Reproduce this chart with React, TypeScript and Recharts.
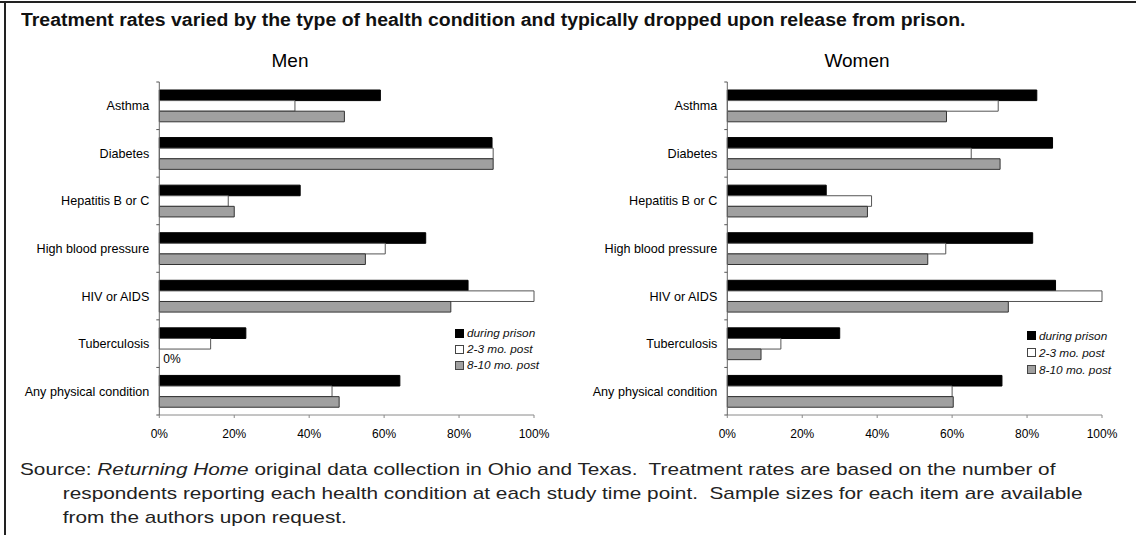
import { Bar, BarChart, LabelList, XAxis, YAxis } from "recharts";

const categories = [
  "Asthma",
  "Diabetes",
  "Hepatitis B or C",
  "High blood pressure",
  "HIV or AIDS",
  "Tuberculosis",
  "Any physical condition",
];
const menDuring = [59, 88.8, 37.6, 71.1, 82.4, 23.1, 64.2];
const menPost23 = [36.2, 89.1, 18.4, 60.3, 100, 13.7, 46.1];
const menPost810 = [49.4, 89.1, 20, 55, 77.8, 0, 48];
const womenDuring = [82.6, 86.8, 26.4, 81.5, 87.6, 30, 73.3];
const womenPost23 = [72.3, 65.1, 38.5, 58.3, 100, 14.3, 60];
const womenPost810 = [58.5, 72.8, 37.4, 53.5, 75, 9, 60.3];
const xTicks = [0, 20, 40, 60, 80, 100];

const seriesNames = ["during prison", "2-3 mo. post", "8-10 mo. post"];

const FONT = "'Liberation Sans', Arial, sans-serif";
const axisColor = "#8a8a8a";

type Row = { name: string; during: number; post23: number; post810: number };

function buildRows(a: number[], b: number[], c: number[]): Row[] {
  return categories.map((name, i) => ({ name, during: a[i], post23: b[i], post810: c[i] }));
}

// y tick: label at band centre, short tick mark at band boundaries
function CategoryTick(props: any) {
  const { x, y, payload, index } = props;
  const half = payload?.offset ?? 23.8;
  return (
    <g>
      <text x={x} y={y} dy="0.36em" textAnchor="end" fontSize={12.6} fill="#000" fontFamily={FONT}>
        {payload.value}
      </text>
      <line x1={x + 7} x2={x + 10} y1={y + half} y2={y + half} stroke="#555" />
      {index === 0 && <line x1={x + 7} x2={x + 10} y1={y - half} y2={y - half} stroke="#555" />}
    </g>
  );
}

function LegendBox({ left, top, rowH }: { left: number; top: number; rowH: number }) {
  const swatches = [
    { fill: "#000", stroke: "#000" },
    { fill: "#fff", stroke: "#444" },
    { fill: "#a0a0a0", stroke: "#444" },
  ];
  return (
    <div
      style={{
        position: "absolute",
        left,
        top,
        fontFamily: FONT,
        fontSize: 11.8,
        fontStyle: "italic",
        color: "#111",
        whiteSpace: "nowrap",
      }}
    >
      {seriesNames.map((n, i) => (
        <div key={n} style={{ display: "flex", alignItems: "center", height: rowH }}>
          <span
            style={{
              width: 7,
              height: 7,
              background: swatches[i].fill,
              border: `1px solid ${swatches[i].stroke}`,
              marginRight: 3,
              display: "inline-block",
            }}
          />
          {n}
        </div>
      ))}
    </div>
  );
}

function Panel({ rows, left, showZero }: { rows: Row[]; left: number; showZero: boolean }) {
  // "0%" note for an empty 8-10 mo. bar, placed just below the 2-3 mo. bar
  const zeroNote = (p: any) => {
    const row = rows[p.index];
    if (!row || row.post810 !== 0) return null;
    const h = Number(p.height);
    return (
      <text
        x={Number(p.x) + 4}
        y={Number(p.y) + h * 1.5 + 4}
        dy="0.36em"
        fontSize={12}
        fill="#000"
        fontFamily={FONT}
      >
        0%
      </text>
    );
  };
  return (
    <div style={{ position: "absolute", left, top: 0 }}>
      <BarChart
        width={560}
        height={450}
        data={rows}
        layout="vertical"
        margin={{ top: 82, right: 26, bottom: 0, left: 0 }}
        barSize={10.6}
        barGap={0}
      >
        <XAxis
          type="number"
          domain={[0, 100]}
          ticks={xTicks}
          tickFormatter={(v) => `${v}%`}
          height={35}
          tickSize={3}
          tickMargin={11}
          stroke={axisColor}
          tick={{ fontSize: 12, fill: "#000", fontFamily: FONT }}
        />
        <YAxis
          type="category"
          dataKey="name"
          width={159.3}
          tickSize={3}
          tickMargin={7}
          tickLine={false}
          stroke="#666"
          tick={<CategoryTick />}
          interval={0}
        />
        <Bar dataKey="during" name={seriesNames[0]} fill="#000" stroke="#000" isAnimationActive={false} />
        <Bar dataKey="post23" name={seriesNames[1]} fill="#fff" stroke="#555" isAnimationActive={false}>
          {showZero && <LabelList dataKey="post23" content={zeroNote} />}
        </Bar>
        <Bar dataKey="post810" name={seriesNames[2]} fill="#a0a0a0" stroke="#333" isAnimationActive={false} />
      </BarChart>
    </div>
  );
}

export default function App() {
  const men = buildRows(menDuring, menPost23, menPost810);
  const women = buildRows(womenDuring, womenPost23, womenPost810);
  return (
    <div
      style={{
        position: "absolute",
        left: 0,
        top: 0,
        width: 1138,
        height: 535,
        background: "#fff",
        fontFamily: FONT,
        overflow: "hidden",
      }}
    >
      <div style={{ position: "absolute", left: 0, top: 1, width: 1136, height: 2, background: "#222" }} />
      <div style={{ position: "absolute", left: 4, top: 1, width: 2, height: 534, background: "#222" }} />
      <div
        style={{
          position: "absolute",
          left: 21,
          top: 10,
          fontSize: 17.5,
          fontWeight: "bold",
          color: "#111",
          whiteSpace: "nowrap",
          transform: "scaleX(1.11)",
          transformOrigin: "left top",
        }}
      >
        Treatment rates varied by the type of health condition and typically dropped upon release from prison.
      </div>
      <div style={{ position: "absolute", left: 240, width: 100, top: 50, textAlign: "center", fontSize: 19 }}>
        Men
      </div>
      <div style={{ position: "absolute", left: 807, width: 100, top: 50, textAlign: "center", fontSize: 19 }}>
        Women
      </div>
      <Panel rows={men} left={0} showZero={true} />
      <Panel rows={women} left={568} showZero={false} />
      <LegendBox left={455} top={325} rowH={16} />
      <LegendBox left={1027} top={327} rowH={17} />
      <div
        style={{
          position: "absolute",
          left: 20,
          top: 458,
          fontSize: 17,
          lineHeight: "24px",
          color: "#222",
          whiteSpace: "pre",
          transform: "scaleX(1.222)",
          transformOrigin: "left top",
        }}
      >
        <div>
          Source: <i>Returning Home</i> original data collection in Ohio and Texas.  Treatment rates are based on the number of
        </div>
        <div style={{ paddingLeft: 35 }}>
          respondents reporting each health condition at each study time point.  Sample sizes for each item are available
        </div>
        <div style={{ paddingLeft: 35 }}>from the authors upon request.</div>
      </div>
    </div>
  );
}
